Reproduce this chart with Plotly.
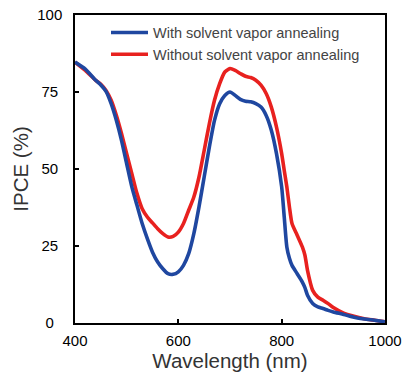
import plotly.graph_objects as go

wavelength = [400, 420, 440, 450, 460, 470, 480, 490, 500, 510, 520, 530, 540, 550, 560, 570,
              580, 590, 600, 610, 620, 630, 640, 650, 660, 670, 680, 690, 700, 710, 720, 730,
              740, 750, 760, 770, 780, 790, 800, 805, 810, 815, 820, 830, 840, 845, 850, 860,
              870, 880, 890, 900, 920, 940, 960, 980, 1000]

ipce_with = [84.7, 82.4, 78.8, 77.3, 75.2, 71.2, 65.8, 59.3, 51.7, 44.2, 38.2, 32.3, 27.4, 23.0,
             19.8, 17.6, 16.0, 15.8, 16.6, 18.7, 22.5, 29.0, 37.7, 47.4, 57.1, 65.8, 71.2, 73.9,
             75.0, 73.9, 72.6, 72.0, 71.8, 71.2, 70.1, 67.4, 62.6, 55.0, 44.2, 34.4, 24.7, 21.0,
             18.7, 16.0, 13.3, 11.5, 9.0, 6.3, 5.2, 4.7, 4.1, 3.6, 2.8, 1.9, 1.3, 0.9, 0.4]

ipce_without = [84.7, 82.0, 78.8, 77.5, 75.5, 72.3, 67.4, 61.5, 55.0, 48.5, 42.0, 37.1, 34.4,
                32.5, 30.6, 29.0, 27.9, 28.1, 29.5, 32.3, 36.6, 40.9, 47.4, 56.0, 64.7, 72.3,
                77.7, 81.5, 82.6, 82.0, 81.0, 80.1, 79.7, 78.8, 77.2, 74.5, 70.1, 63.6, 55.0,
                49.5, 44.2, 37.7, 32.3, 28.5, 24.7, 22.0, 17.1, 10.6, 8.4, 7.4, 6.3, 5.0, 3.2,
                2.2, 1.4, 0.9, 0.4]

x_ticks = [400, 600, 800, 1000]
y_ticks = [0, 25, 50, 75, 100]
y_tick_labels = ["0\u00a0\u00a0", "25\u00a0", "50\u00a0", "75\u00a0", "100"]

series_names = ["With solvent vapor annealing", "Without solvent vapor annealing"]
series_colors = ["#1f47a0", "#e8211f"]

fig = go.Figure()
fig.add_trace(go.Scatter(x=wavelength, y=ipce_without, mode="lines", name=series_names[1],
                         line=dict(color=series_colors[1], width=3.6, shape="spline", smoothing=0.6),
                         legendrank=2))
fig.add_trace(go.Scatter(x=wavelength, y=ipce_with, mode="lines", name=series_names[0],
                         line=dict(color=series_colors[0], width=3.6, shape="spline", smoothing=0.6),
                         legendrank=1))

tick_font = dict(family="Liberation Sans, Arial", size=15, color="black")
title_font = dict(family="Liberation Sans, Arial", size=20.5, color="#333")
axis_common = dict(showline=True, linecolor="black", linewidth=1.5, mirror=True,
                   ticks="inside", ticklen=4, tickwidth=1.5, tickcolor="black",
                   showgrid=False, zeroline=False, automargin=False, tickfont=tick_font)

fig.update_layout(
    width=406, height=372,
    margin=dict(l=75, r=21, t=15, b=49),
    paper_bgcolor="white", plot_bgcolor="white",
    xaxis=dict(range=[400, 1000], tickvals=x_ticks, ticklabelstandoff=3,
               title=dict(text="Wavelength (nm)", standoff=4, font=title_font),
               **axis_common),
    yaxis=dict(range=[0, 100], tickvals=y_ticks, ticktext=y_tick_labels, ticklabelstandoff=8,
               title=dict(text="IPCE (%)", standoff=3, font=title_font),
               **axis_common),
    legend=dict(x=0.1, y=0.995, xanchor="left", yanchor="top", bgcolor="rgba(0,0,0,0)",
                font=dict(family="Liberation Sans, Arial", size=14.5, color="#444"),
                traceorder="normal", itemwidth=37),
    showlegend=True,
)

fig.write_html("out.html")
